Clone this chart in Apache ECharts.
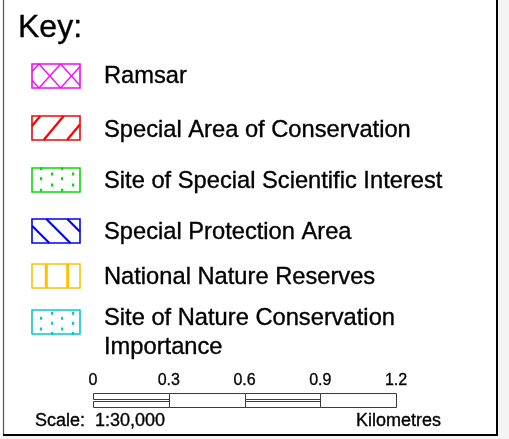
<!DOCTYPE html>
<html><head><meta charset="utf-8">
<script src="https://cdn.jsdelivr.net/npm/echarts@6/dist/echarts.min.js"></script>
<style>html,body{margin:0;padding:0;background:#fff}#c{width:509px;height:439px}</style>
</head><body><div id="c"></div>
<script>
// ---- data ----
const keyTitle = 'Key:';
const categories = ['Ramsar', 'Special Area of Conservation', 'Site of Special Scientific Interest', 'Special Protection Area', 'National Nature Reserves', 'Site of Nature Conservation\nImportance'];
const scaleTicks = [0, 0.3, 0.6, 0.9, 1.2];
const scaleLabel = 'Scale:  1:30,000';
const unitLabel = 'Kilometres';

// ---- styles / layout ----
const FONT = "'Liberation Sans', Arial, Helvetica, sans-serif";
const swatchColors = ['#ff00ff', '#ff0000', '#00e000', '#0000ff', '#ffc000', '#00cccc'];
const swatchKinds = ['cross', 'fwd', 'dots', 'back', 'vbars', 'dots2'];
const swatchTop = [64, 116, 168, 219, 264, 310];
const textY = [76.5, 130, 181.5, 232, 277, 318.5];
const SX = 32, SW = 48, SH = 24;

function clipLine(px, py, dx, dy, x0, y0, x1, y1) {
  let t0 = -1e9, t1 = 1e9;
  const p = [-dx, dx, -dy, dy], q = [px - x0, x1 - px, py - y0, y1 - py];
  for (let i = 0; i < 4; i++) {
    if (p[i] === 0) { if (q[i] < 0) return null; }
    else {
      const r = q[i] / p[i];
      if (p[i] < 0) { if (r > t0) t0 = r; } else { if (r < t1) t1 = r; }
    }
  }
  if (t0 >= t1) return null;
  return [px + t0 * dx, py + t0 * dy, px + t1 * dx, py + t1 * dy];
}

function txt(x, y, text, size, align, extra) {
  return Object.assign({ type: 'text', z: 5, x: x, y: y, style: { text: text, fontSize: size, fontFamily: FONT, fill: '#000', stroke: '#000', lineWidth: 0.35, align: align, verticalAlign: 'middle', textAlign: align, textVerticalAlign: 'middle' } }, extra || {});
}

const elements = [];
// grey margin outside the frame
elements.push({ type: 'rect', z: 0, shape: { x: 498, y: 0, width: 20, height: 445 }, style: { fill: '#f4f4f4' } });
elements.push({ type: 'rect', z: 0, shape: { x: 0, y: 436, width: 520, height: 10 }, style: { fill: '#f4f4f4' } });
// frame
elements.push({ type: 'line', z: 5, shape: { x1: 3.5, y1: -2, x2: 3.5, y2: 436 }, style: { stroke: '#555', lineWidth: 1.2 } });
elements.push({ type: 'line', z: 5, shape: { x1: 497, y1: -2, x2: 497, y2: 436 }, style: { stroke: '#000', lineWidth: 2 } });
elements.push({ type: 'line', z: 5, shape: { x1: 3, y1: 435, x2: 498, y2: 435 }, style: { stroke: '#000', lineWidth: 2 } });

// title
elements.push(txt(18, 28, keyTitle, 32, 'left'));

function addLines(top, color, lw, px0, py0, dx, dy, step) {
  for (let k = -6; k <= 6; k++) {
    const seg = clipLine(SX + px0 + k * step, top + py0, dx, dy, SX, top, SX + SW, top + SH);
    if (seg) elements.push({ type: 'line', z: 3, shape: { x1: seg[0], y1: seg[1], x2: seg[2], y2: seg[3] }, style: { stroke: color, lineWidth: lw } });
  }
}
function addDots(top, color, pts) {
  pts.forEach(p => elements.push({ type: 'rect', z: 3, shape: { x: SX + p[0] - 1, y: top + p[1] - 1.5, width: 2.2, height: 3 }, style: { fill: color } }));
}

categories.forEach((name, i) => {
  const top = swatchTop[i], c = swatchColors[i], kind = swatchKinds[i];
  elements.push({ type: 'rect', z: 2, shape: { x: SX, y: top, width: SW, height: SH }, style: { fill: '#fff' } });
  if (kind === 'cross') {
    addLines(top, c, 1.3, 7, 0, 10.8, 12, 21.6);
    addLines(top, c, 1.3, 7, 0, -10.8, 12, 21.6);
  } else if (kind === 'fwd') {
    addLines(top, c, 2.3, 11.7, SH, 20, -24, 23.3);
  } else if (kind === 'back') {
    addLines(top, c, 2.1, 14.3, 0, 24, 24, 21);
  } else if (kind === 'vbars') {
    [14.3, 35.7].forEach(x => elements.push({ type: 'rect', z: 3, shape: { x: SX + x - 1.5, y: top, width: 3, height: SH }, style: { fill: c } }));
  } else if (kind === 'dots') {
    addDots(top, c, [[9, 0.7], [30, 0.7], [20, 6], [41, 6], [9, 10.7], [30, 10.7], [20, 17], [41, 17], [9, 22.3], [30, 22.3]]);
  } else if (kind === 'dots2') {
    addDots(top, c, [[20, 3.3], [41, 3.3], [9, 8.3], [30, 8.3], [20, 13.3], [41, 13.3], [9, 19], [30, 19], [20, 23.5], [41, 23.5]]);
  }
  elements.push({ type: 'rect', z: 4, shape: { x: SX, y: top, width: SW, height: SH }, style: { fill: 'none', stroke: c, lineWidth: 1.6 } });
  name.split('\n').forEach((line, j) => {
    elements.push(txt(104, textY[i] + j * 29, line, 23.7, 'left'));
  });
});

// scale texts
elements.push(txt(35, 421, scaleLabel, 18, 'left'));
elements.push(txt(441, 421, unitLabel, 18, 'right'));

const segments = scaleTicks.slice(0, -1).map((v, i) => [v, scaleTicks[i + 1], 0]);

const chart = echarts.init(document.getElementById('c'), null, { renderer: 'canvas' });
chart.setOption({
  animation: false,
  backgroundColor: '#fff',
  grid: { left: 93, top: 393, width: 303, height: 14 },
  xAxis: {
    type: 'value', min: 0, max: 1.2, interval: 0.3, position: 'top',
    axisLine: { show: false }, axisTick: { show: false }, splitLine: { show: false },
    axisLabel: { fontSize: 16, fontFamily: FONT, color: '#000', textBorderColor: '#000', textBorderWidth: 0.3, margin: 4 }
  },
  yAxis: { type: 'value', min: 0, max: 1, show: false },
  series: [{
    type: 'custom', coordinateSystem: 'cartesian2d', encode: { x: [0, 1], y: 2 }, data: segments, z: 6,
    renderItem: function (params, api) {
      const a = api.coord([api.value(0), 1]), b = api.coord([api.value(1), 0]);
      const x = Math.round(a[0]) + 0.5, x2 = Math.round(b[0]) + 0.5;
      const y = Math.round(a[1]) + 0.5, y2 = Math.round(b[1]) + 0.5;
      const st = { fill: '#fff', stroke: '#3a3a3a', lineWidth: 1 };
      if (params.dataIndex % 2 === 0) {
        const m = (y + y2) / 2;
        return { type: 'group', children: [
          { type: 'rect', shape: { x: x, y: y, width: x2 - x, height: m - 1 - y }, style: st },
          { type: 'rect', shape: { x: x, y: m + 1, width: x2 - x, height: y2 - m - 1 }, style: st }
        ] };
      }
      return { type: 'rect', shape: { x: x, y: y, width: x2 - x, height: y2 - y }, style: st };
    }
  }],
  graphic: { elements: elements }
});
</script>
</body></html>
